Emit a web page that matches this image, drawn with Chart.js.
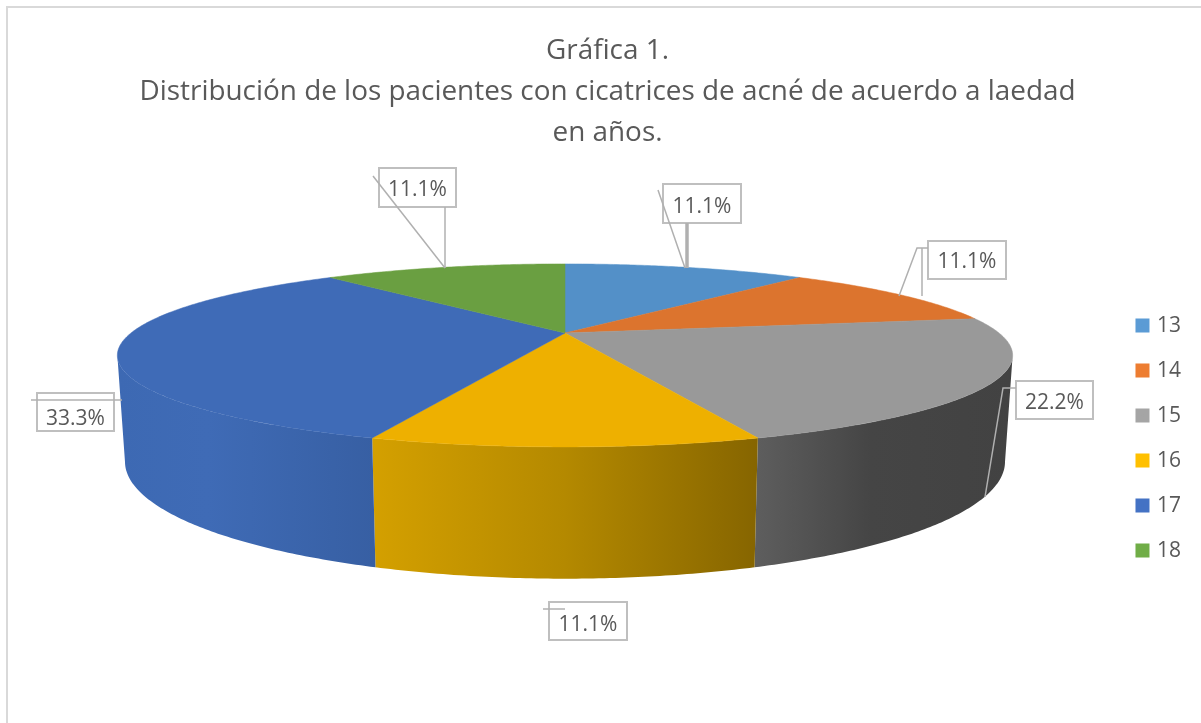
<!DOCTYPE html>
<html><head><meta charset="utf-8">
<script src="https://cdn.jsdelivr.net/npm/chart.js@4"></script>
<style>html,body{margin:0;padding:0;background:#fff}canvas{display:block}</style>
</head><body><canvas id="c" width="1201" height="723"></canvas>
<script>
const categories = ['13','14','15','16','17','18'];
const percentages = [11.1,11.1,22.2,11.1,33.3,11.1];
const titleLines = ['Gráfica 1.','Distribución de los pacientes con cicatrices de acné de acuerdo a laedad','en años.'];
const legendColors = ['#5b9bd5','#ed7d31','#a5a5a5','#ffc000','#4472c4','#70ad47'];
const topColors = ['#5390c8','#dc742e','#999999','#eeb000','#3f6bb7','#6a9f41'];
const sideStops = [null,null,
  [[0,'#5e5e5e'],[0.45,'#454545'],[1,'#424242']],
  [[0,'#d4a000'],[0.5,'#b48900'],[1,'#866500']],
  [[0,'#3d69b3'],[0.35,'#3f6bb6'],[1,'#375fa3']],
  null];
const labelBoxes = [[663,184,78,39],[928,241,78,38],[1016,381,77,38],[549,602,78,38],[37,393,77,38],[379,168,77,39]];
const labelOffsets = [4,2,3,4,7,3];
const leaders = [
  [[[658,190],[685,268]],1.5],[[[687,223],[687,268]],3.5],
  [[[899,296],[917,248],[928,248]],1.5],[[[922,248],[922,296]],1.5],
  [[[1016,388],[1003,388],[985,497]],1.5],
  [[[543,609],[565,609]],1.5],
  [[[31,400],[122,400]],1.5],
  [[[373,176],[445,268]],1.5],[[[445,207],[445,268]],1.5]
];
const topPlane = {cx:565,cy:333,a:434,b:86,q:0.245};
const bottomPlane = {cx:565,cy:433,a:426.6,b:110,q:0.245};

function project(p,th){const s=Math.sin(th),c=Math.cos(th),w=1+p.q*c;return [p.cx+p.a*s/w,p.cy-p.b*c/w];}
function arcPts(p,t0,t1){const n=Math.max(2,Math.ceil(Math.abs(t1-t0)/0.01)),o=[];
  for(let i=0;i<=n;i++)o.push(project(p,t0+(t1-t0)*i/n));return o;}
function path(ctx,pts){ctx.beginPath();pts.forEach((q,i)=>i?ctx.lineTo(q[0],q[1]):ctx.moveTo(q[0],q[1]));ctx.closePath();}

const pie3d = {
  id:'pie3d',
  beforeDraw(chart){
    const ctx=chart.ctx;ctx.save();ctx.strokeStyle='#d9d9d9';ctx.lineWidth=2;
    ctx.beginPath();ctx.moveTo(7,723);ctx.lineTo(7,7);ctx.lineTo(1201,7);ctx.stroke();ctx.restore();
  },
  beforeDatasetDraw(chart,args){
    const ctx=chart.ctx,arcs=chart.getDatasetMeta(args.index).data;
    const limA=Math.acos(-topPlane.q),limB=2*Math.PI-limA;
    ctx.save();
    arcs.forEach((el,i)=>{
      const t0=el.startAngle+Math.PI/2,t1=el.endAngle+Math.PI/2;
      const a=Math.max(t0,limA),b=Math.min(t1,limB);
      if(b>a&&sideStops[i]){
        const pts=arcPts(topPlane,a,b).concat(arcPts(bottomPlane,b,a));
        const xs=pts.map(q=>q[0]),g=ctx.createLinearGradient(Math.min(...xs),0,Math.max(...xs),0);
        sideStops[i].forEach(s=>g.addColorStop(s[0],s[1]));
        path(ctx,pts);ctx.fillStyle=g;ctx.fill();
      }
    });
    arcs.forEach((el,i)=>{
      const t0=el.startAngle+Math.PI/2,t1=el.endAngle+Math.PI/2;
      const pts=[[topPlane.cx,topPlane.cy]].concat(arcPts(topPlane,t0,t1));
      path(ctx,pts);ctx.fillStyle=topColors[i];ctx.fill();ctx.strokeStyle=topColors[i];ctx.lineWidth=0.5;ctx.stroke();
    });
    ctx.restore();
    return false;
  },
  afterDatasetsDraw(chart){
    const ctx=chart.ctx;ctx.save();
    ctx.fillStyle='#fff';
    labelBoxes.forEach(b=>ctx.fillRect(b[0],b[1],b[2],b[3]));
    ctx.strokeStyle='#bfbfbf';ctx.lineWidth=2;
    labelBoxes.forEach(b=>ctx.strokeRect(b[0],b[1],b[2],b[3]));
    ctx.strokeStyle='#b0b0b0';
    leaders.forEach(l=>{ctx.lineWidth=l[1];ctx.beginPath();l[0].forEach((q,i)=>i?ctx.lineTo(q[0],q[1]):ctx.moveTo(q[0],q[1]));ctx.stroke();});
    ctx.fillStyle='#595959';ctx.font='21px "Open Sans"';ctx.textAlign='center';ctx.textBaseline='middle';
    labelBoxes.forEach((b,i)=>ctx.fillText(percentages[i].toFixed(1)+'%',b[0]+b[2]/2,b[1]+b[3]/2+labelOffsets[i]));
    ctx.restore();
  }
};

new Chart(document.getElementById('c'),{
  type:'pie',
  data:{labels:categories,datasets:[{data:percentages,backgroundColor:legendColors,borderColor:legendColors,borderWidth:6}]},
  plugins:[pie3d],
  options:{
    responsive:false,animation:false,devicePixelRatio:1,
    layout:{padding:{left:24,right:10,top:31,bottom:0}},
    plugins:{
      tooltip:{enabled:false},
      title:{display:true,text:titleLines,color:'#595959',font:{family:'"Open Sans"',size:27.9,weight:'normal',lineHeight:1.46},padding:{top:0,bottom:0}},
      legend:{display:true,position:'right',fullSize:false,labels:{boxWidth:8,boxHeight:8,color:'#595959',padding:24,font:{family:'"Open Sans"',size:21}}}
    }
  }
});
</script></body></html>
